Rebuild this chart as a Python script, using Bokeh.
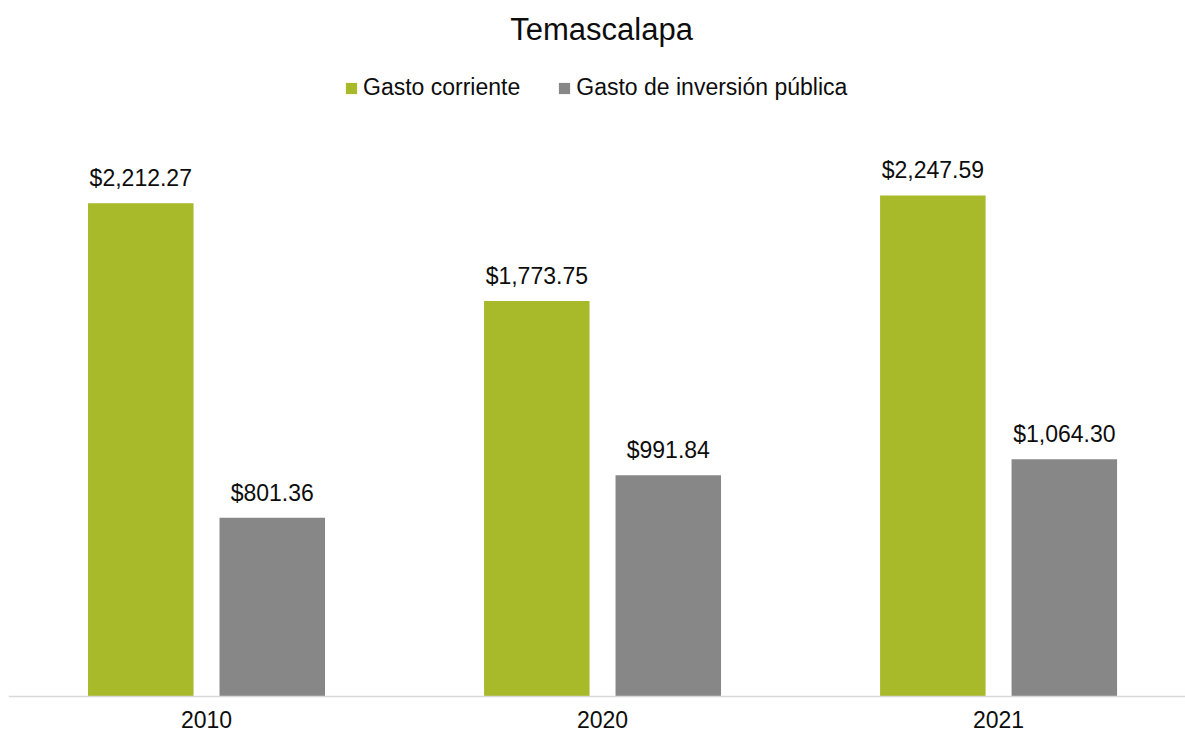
from bokeh.plotting import figure
from bokeh.models import (ColumnDataSource, Legend, LegendItem, Label,
                          Range1d, FixedTicker)
from bokeh.transform import dodge
from bokeh.core.properties import value
from bokeh.embed import file_html
from bokeh.resources import INLINE

years = ["2010", "2020", "2021"]
gasto_corriente = [2212.27, 1773.75, 2247.59]
gasto_inversion = [801.36, 991.84, 1064.30]
series_names = ["Gasto corriente", "Gasto de inversión pública"]
title_text = "Temascalapa"

GREEN = "#A8B929"
GRAY = "#878787"
FONT = "Liberation Sans"
TXT = "#0d0d0d"


def fmt(v):
    return "${:,.2f}".format(v)


# each category occupies one unit on the x scale, its centre at index + 0.5
xpos = [i + 0.5 for i in range(len(years))]
src = ColumnDataSource(dict(
    year=years,
    xpos=xpos,
    gc=gasto_corriente,
    gi=gasto_inversion,
    gc_lbl=[fmt(v) for v in gasto_corriente],
    gi_lbl=[fmt(v) for v in gasto_inversion],
))

p = figure(x_range=Range1d(0, 2.972), y_range=Range1d(-179.5, 3122),
           width=1185, height=736, output_backend="svg", toolbar_location=None,
           min_border_left=8, min_border_right=0, min_border_top=0, min_border_bottom=0)
p.outline_line_color = None
p.background_fill_color = "white"
p.xgrid.visible = False
p.ygrid.visible = False
p.yaxis.visible = False

xa = p.xaxis[0]
xa.fixed_location = 0
xa.ticker = FixedTicker(ticks=xpos)
xa.major_label_overrides = {x: y for x, y in zip(xpos, years)}
xa.axis_line_color = "#D9D9D9"
xa.axis_line_width = 1.6
xa.major_tick_line_color = None
xa.minor_tick_line_color = None
xa.major_tick_out = 0
xa.major_tick_in = 0
xa.major_label_standoff = 15
xa.major_label_text_font = FONT
xa.major_label_text_font_size = "23px"
xa.major_label_text_color = TXT

off = 0.166
bw = 0.2664
r1 = p.vbar(x=dodge("xpos", -off), top="gc", width=bw, source=src,
            fill_color=GREEN, line_color=None)
r2 = p.vbar(x=dodge("xpos", off), top="gi", width=bw, source=src,
            fill_color=GRAY, line_color=None)

for col, lbl, o in (("gc", "gc_lbl", -off), ("gi", "gi_lbl", off)):
    p.text(x=dodge("xpos", o), y=col, text=lbl, source=src,
           text_align="center", text_baseline="alphabetic", y_offset=-25,
           text_font=value(FONT), text_font_size="23px", text_color=TXT)

p.add_layout(Label(x=1.5, y=2992, x_offset=-1, text=title_text, text_align="center",
                   text_baseline="alphabetic", text_font=FONT, text_font_size="31px",
                   text_color=TXT))

legend = Legend(items=[LegendItem(label=series_names[0], renderers=[r1]),
                       LegendItem(label=series_names[1], renderers=[r2])],
                orientation="horizontal", location=(336, 595 + 40),
                label_text_font=FONT, label_text_font_size="23px", label_text_color=TXT,
                glyph_width=14, glyph_height=14, label_standoff=5, spacing=37,
                padding=0, margin=0, border_line_color=None, background_fill_alpha=0)
p.add_layout(legend)

open("out.html", "w").write(file_html(p, INLINE))
